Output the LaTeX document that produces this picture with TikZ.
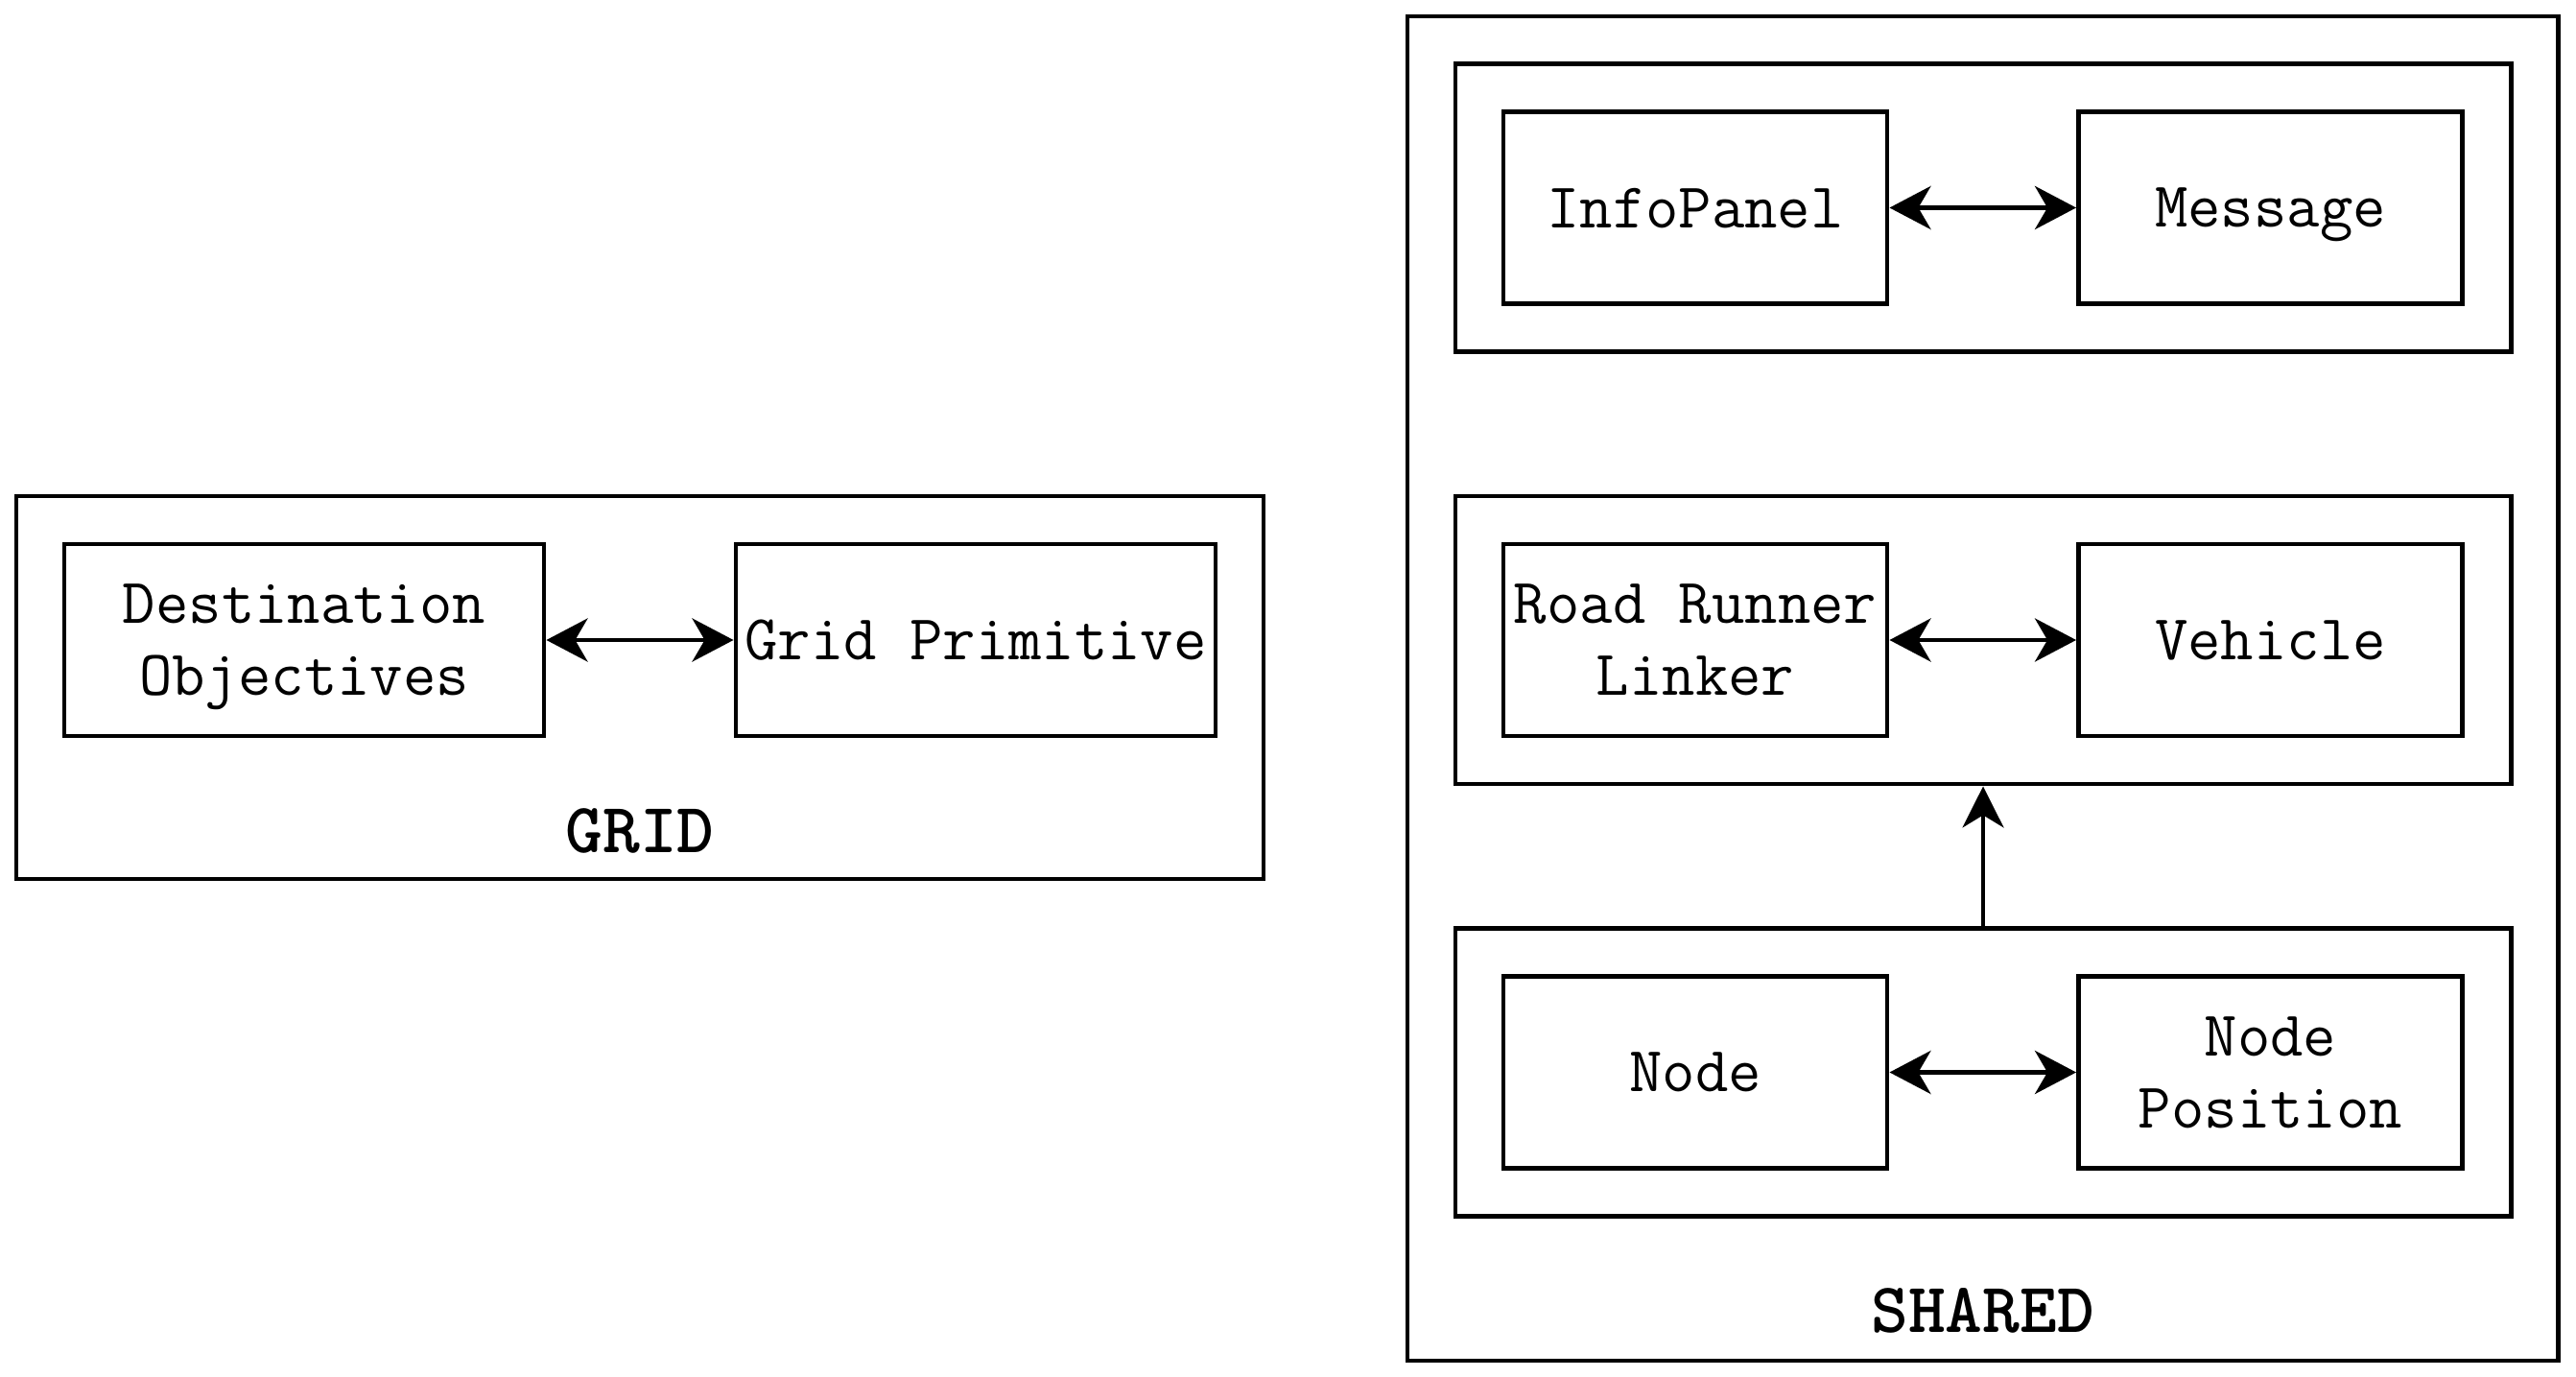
\documentclass[tikz,border=0pt]{standalone}
\usepackage{fontspec}
\usepackage{tikz}
\usetikzlibrary{arrows.meta}
\tikzstyle{cls}=[draw, line width=1.4pt, minimum width=4cm, minimum height=2cm, inner sep=0pt, text depth=0pt, align=center, font=\ttfamily\fontsize{19}{21.3}\selectfont]
\tikzstyle{wcls}=[cls, minimum width=5cm]
\tikzstyle{grp}=[draw, line width=1.4pt, minimum width=11cm, minimum height=3cm, inner sep=0pt]
\tikzstyle{pkg}=[draw, line width=1.4pt, inner sep=0pt]
\tikzstyle{pkglabel}=[font=\ttfamily\bfseries\fontsize{21}{24}\selectfont]
\tikzstyle{link}=[line width=1.4pt, {Stealth[length=0.43cm, width=0.45cm, inset=0.13cm]}-{Stealth[length=0.43cm, width=0.45cm, inset=0.13cm]}]
\tikzstyle{dep}=[line width=1.1pt, -{Stealth[length=0.43cm, width=0.43cm, inset=0.13cm]}]

\begin{document}
\begin{tikzpicture}
        \useasboundingbox (0, 0) rectangle (26.85, -14.35);
        % GRID package
        \node[pkg, minimum width=13cm, minimum height=3.99cm] (grid) at (6.67, -7.165) {};
        \node[wcls] (dest) at (3.17, -6.67) {Destination\\Objectives};
        \node[wcls] (prim) at (10.17, -6.67) {Grid Primitive};
        \node[pkglabel] (gridlbl) at (6.67, -8.66) {GRID};
        \draw[link] (dest.east) -- (prim.west);
        % SHARED package
        \node[pkg, minimum width=11.99cm, minimum height=14.01cm] (shared) at (20.665, -7.175) {};
        \node[grp] (grp1) at (20.67, -2.165) {};
        \node[grp] (grp2) at (20.67, -6.67) {};
        \node[grp] (grp3) at (20.67, -11.175) {};
        \node[cls] (info) at (17.67, -2.165) {InfoPanel};
        \node[cls] (msg) at (23.665, -2.165) {Message};
        \node[cls] (linker) at (17.67, -6.67) {Road Runner\\Linker};
        \node[cls] (vehicle) at (23.665, -6.67) {Vehicle};
        \node[cls] (node) at (17.67, -11.175) {Node};
        \node[cls] (nodepos) at (23.665, -11.175) {Node\\Position};
        \node[pkglabel] (sharedlbl) at (20.665, -13.66) {SHARED};
        \draw[link] (info.east) -- (msg.west);
        \draw[link] (linker.east) -- (vehicle.west);
        \draw[link] (node.east) -- (nodepos.west);
        \draw[dep] (grp3.north) -- (grp2.south);
    \end{tikzpicture}
\end{document}
